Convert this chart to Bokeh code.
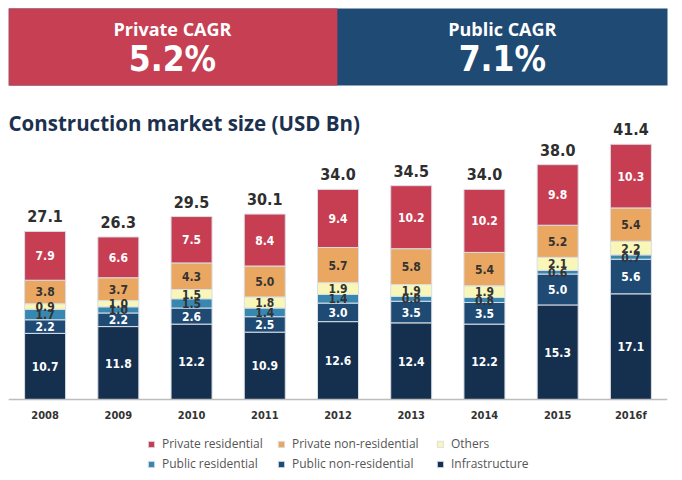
from bokeh.plotting import figure
from bokeh.models import ColumnDataSource, BoxAnnotation, Label, Legend, FactorRange
from bokeh.core.properties import value
from bokeh.embed import file_html
from bokeh.resources import INLINE

years = ["2008", "2009", "2010", "2011", "2012", "2013", "2014", "2015", "2016f"]
infrastructure = [10.7, 11.8, 12.2, 10.9, 12.6, 12.4, 12.2, 15.3, 17.1]
public_nonres = [2.2, 2.2, 2.6, 2.5, 3.0, 3.5, 3.5, 5.0, 5.6]
public_res = [1.7, 1.0, 1.5, 1.4, 1.4, 0.8, 0.8, 0.6, 0.7]
others = [0.9, 1.0, 1.5, 1.8, 1.9, 1.9, 1.9, 2.1, 2.2]
private_nonres = [3.8, 3.7, 4.3, 5.0, 5.7, 5.8, 5.4, 5.2, 5.4]
private_res = [7.9, 6.6, 7.5, 8.4, 9.4, 10.2, 10.2, 9.8, 10.3]
totals = [27.1, 26.3, 29.5, 30.1, 34.0, 34.5, 34.0, 38.0, 41.4]

series_keys = ["infra", "pubnon", "pubres", "oth", "privnon", "privres"]
series_vals = [infrastructure, public_nonres, public_res, others, private_nonres, private_res]
series_names = ["Infrastructure", "Public non-residential", "Public residential",
                "Others", "Private non-residential", "Private residential"]
colors = ["#15304f", "#1f4a74", "#3787b0", "#f8f6b8", "#e9a761", "#c73e53"]
label_colors = ["white", "white", "#333333", "#333333", "#333333", "white"]

header_left_title = "Private CAGR"
header_left_value = "5.2%"
header_right_title = "Public CAGR"
header_right_value = "7.1%"
chart_title = "Construction market size (USD Bn)"

NUM_FONT = "DejaVu Sans Condensed"

# pixel helpers (layout only): canvas pixel -> data coordinate
W, H = 682, 480
PX_PER_UNIT = 6.18
BASE_Y = 399
FRAME_LEFT = 8
def py(page_y):
    return (BASE_Y - page_y) / PX_PER_UNIT
FACTOR_PX = 73.25
def px(page_x):
    return (page_x - FRAME_LEFT) / FACTOR_PX

data = {"years": years}
for k, v in zip(series_keys, series_vals):
    data[k] = v
source = ColumnDataSource(data)

frame_w = FACTOR_PX * len(years)
p = figure(width=W, height=H, output_backend="svg", toolbar_location=None,
           x_range=FactorRange(*years, range_padding=0),
           y_range=(py(H), py(0)),
           min_border_left=FRAME_LEFT, min_border_right=int(round(W - FRAME_LEFT - frame_w)),
           min_border_top=0, min_border_bottom=0)
p.outline_line_color = None
p.background_fill_color = "white"
p.border_fill_color = "white"
p.xgrid.visible = False
p.ygrid.visible = False
p.yaxis.visible = False

renderers = p.vbar_stack(series_keys, x="years", width=0.56, source=source,
                         fill_color=colors, line_color="#d9dee6", line_width=1)

# segment labels
for i, (k, v) in enumerate(zip(series_keys, series_vals)):
    mids = []
    for j in range(len(years)):
        base = sum(series_vals[m][j] for m in range(i))
        mids.append(base + v[j] / 2)
    src = ColumnDataSource({"x": years, "y": mids, "t": ["%.1f" % a for a in v]})
    p.text(x="x", y="y", text="t", source=src, text_align="center", text_baseline="middle",
           text_font=value(NUM_FONT), text_font_style="bold", text_font_size="12px",
           text_color=label_colors[i])

# totals
tops = [sum(series_vals[m][j] for m in range(len(series_vals))) for j in range(len(years))]
tsrc = ColumnDataSource({"x": years, "y": tops, "t": ["%.1f" % a for a in totals]})
p.text(x="x", y="y", text="t", source=tsrc, text_align="center", text_baseline="bottom",
       y_offset=-9, text_font=value(NUM_FONT), text_font_style="bold", text_font_size="16px",
       text_color="#2e2e2e")

# header
p.add_layout(BoxAnnotation(left=px(8), right=px(668), top=py(8), bottom=py(85),
                           fill_color="#1f4a74", fill_alpha=1, line_color=None))
p.add_layout(BoxAnnotation(left=px(8), right=px(337), top=py(8), bottom=py(85),
                           fill_color="#c63f53", fill_alpha=1, line_color=None))
for cx, t1, t2 in [(px(172), header_left_title, header_left_value),
                   (px(502), header_right_title, header_right_value)]:
    p.add_layout(Label(x=cx, y=py(28), text=t1, text_align="center", text_baseline="middle",
                       text_font="Open Sans", text_font_style="bold", text_font_size="18px",
                       text_color="white"))
    p.add_layout(Label(x=cx, y=py(58), text=t2, text_align="center", text_baseline="middle",
                       text_font=NUM_FONT, text_font_style="bold", text_font_size="35px",
                       text_color="white"))
p.add_layout(Label(x=px(8), y=py(122), text=chart_title, text_align="left",
                   text_baseline="middle", text_font="Open Sans", text_font_style="bold",
                   text_font_size="20.5px", text_color="#1c3150"))

# axis drawn at the zero baseline
ax = p.xaxis[0]
ax.fixed_location = 0
ax.axis_line_color = "#bdbdbd"
ax.axis_line_width = 1.5
ax.major_tick_line_color = None
ax.minor_tick_line_color = None
ax.major_label_standoff = 3
ax.major_label_text_font = NUM_FONT
ax.major_label_text_font_style = "bold"
ax.major_label_text_font_size = "11px"
ax.major_label_text_color = "#333333"

# legends: three columns, two rows each
columns = [([5, 2], 139), ([4, 1], 269), ([3, 0], 428)]
for idxs, lx in columns:
    items = [(series_names[i], [renderers[i]]) for i in idxs]
    lg = Legend(items=items, orientation="vertical", location=(lx, 8),
                label_text_font="Open Sans", label_text_font_size="12px",
                label_text_color="#555555", glyph_width=8, glyph_height=8,
                label_standoff=7, spacing=3, padding=0, margin=0,
                border_line_color=None, background_fill_alpha=0, label_height=14)
    p.add_layout(lg, "center")

open("out.html", "w").write(file_html(p, INLINE))
